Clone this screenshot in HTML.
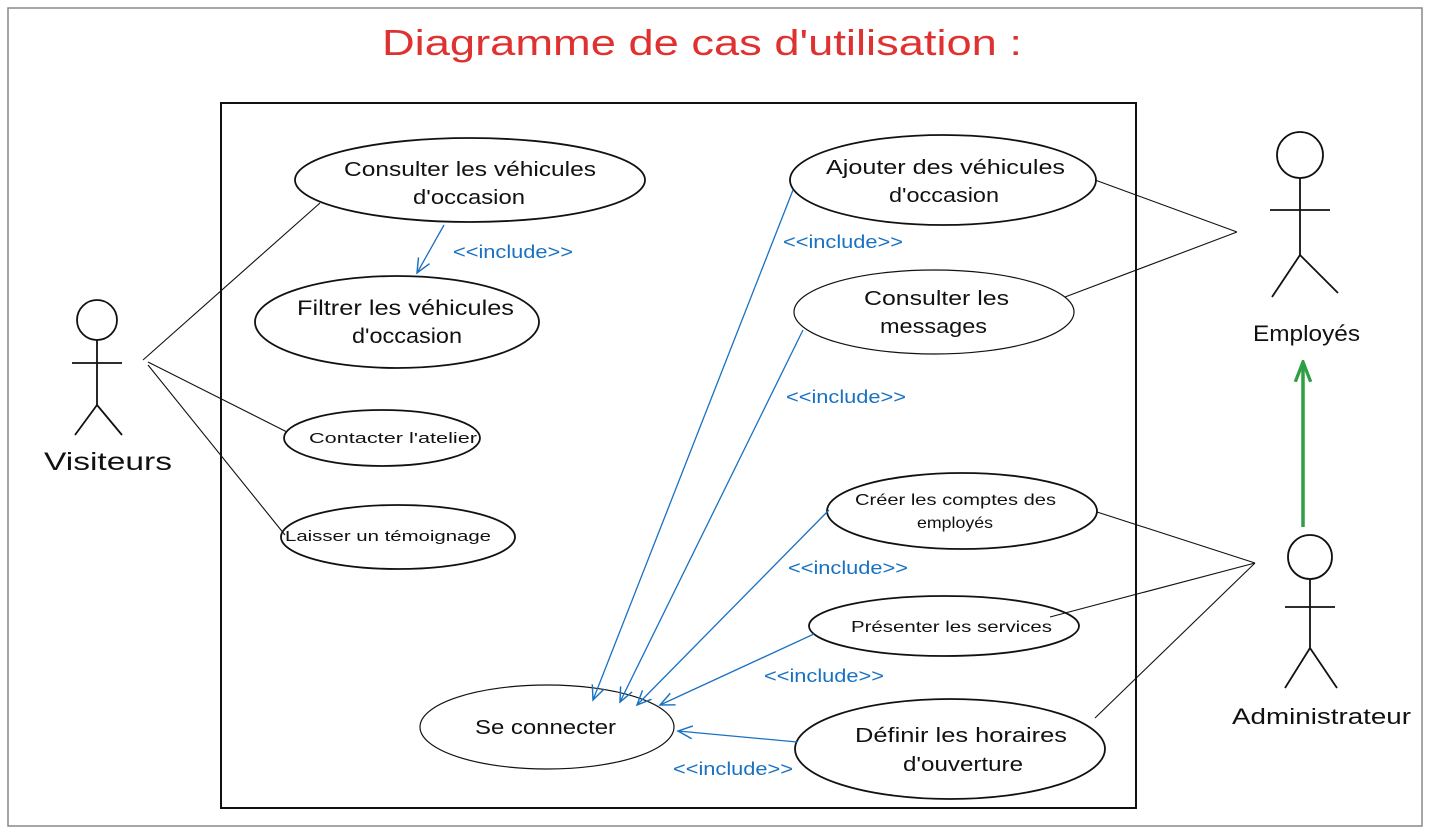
<!DOCTYPE html>
<html><head><meta charset="utf-8"><style>
html,body{margin:0;padding:0;background:#fff;}
svg{display:block;font-family:"Liberation Sans",sans-serif;}
</style></head><body>
<svg width="1432" height="836" viewBox="0 0 1432 836" xmlns="http://www.w3.org/2000/svg">
<defs>
<marker id="ab" viewBox="0 0 20 20" refX="18" refY="10" markerWidth="16" markerHeight="16" orient="auto" markerUnits="userSpaceOnUse">
<path d="M0,2 L18,10 L0,18" fill="none" stroke="#1971c2" stroke-width="1.8"/></marker>
<marker id="ag" viewBox="0 0 20 20" refX="18" refY="10" markerWidth="22" markerHeight="22" orient="auto" markerUnits="userSpaceOnUse">
<path d="M0,3 L18,10 L0,17" fill="none" stroke="#2f9e44" stroke-width="3"/></marker>
</defs>
<rect x="8" y="8" width="1414" height="818" fill="none" stroke="#888" stroke-width="1.5"/>
<text x="382" y="55" textLength="640" lengthAdjust="spacingAndGlyphs" font-size="36" fill="#e03131">Diagramme de cas d'utilisation :</text>
<rect x="221" y="103" width="915" height="705" fill="none" stroke="#111" stroke-width="2"/>

<g fill="none" stroke="#111" stroke-width="1.8">
<ellipse cx="470" cy="180" rx="175" ry="42"/>
<ellipse cx="397" cy="322" rx="142" ry="46"/>
<ellipse cx="382" cy="438" rx="98" ry="28"/>
<ellipse cx="398" cy="537" rx="117" ry="32"/>
<ellipse cx="943" cy="180" rx="153" ry="45"/>
<ellipse cx="934" cy="312" rx="140" ry="42" stroke-width="1.2"/>
<ellipse cx="962" cy="511" rx="135" ry="38"/>
<ellipse cx="944" cy="626" rx="135" ry="30"/>
<ellipse cx="950" cy="749" rx="155" ry="50"/>
<ellipse cx="547" cy="727" rx="127" ry="42" stroke-width="1.2"/>
</g>
<g fill="#111" lengthAdjust="spacingAndGlyphs">
<text x="344" y="176" font-size="20" textLength="252" lengthAdjust="spacingAndGlyphs">Consulter les véhicules</text>
<text x="413" y="204" font-size="20" textLength="112" lengthAdjust="spacingAndGlyphs">d'occasion</text>
<text x="297" y="315" font-size="21" textLength="217" lengthAdjust="spacingAndGlyphs">Filtrer les véhicules</text>
<text x="352" y="343" font-size="21" textLength="110" lengthAdjust="spacingAndGlyphs">d'occasion</text>
<text x="309" y="443" font-size="15" textLength="168" lengthAdjust="spacingAndGlyphs">Contacter l'atelier</text>
<text x="285" y="541" font-size="15" textLength="206" lengthAdjust="spacingAndGlyphs">Laisser un témoignage</text>
<text x="826" y="174" font-size="20" textLength="239" lengthAdjust="spacingAndGlyphs">Ajouter des véhicules</text>
<text x="889" y="202" font-size="20" textLength="110" lengthAdjust="spacingAndGlyphs">d'occasion</text>
<text x="864" y="305" font-size="20" textLength="145" lengthAdjust="spacingAndGlyphs">Consulter les</text>
<text x="880" y="333" font-size="20" textLength="107" lengthAdjust="spacingAndGlyphs">messages</text>
<text x="855" y="505" font-size="16" textLength="201" lengthAdjust="spacingAndGlyphs">Créer les comptes des</text>
<text x="917" y="528" font-size="16" textLength="76" lengthAdjust="spacingAndGlyphs">employés</text>
<text x="851" y="632" font-size="16" textLength="201" lengthAdjust="spacingAndGlyphs">Présenter les services</text>
<text x="855" y="742" font-size="20" textLength="212" lengthAdjust="spacingAndGlyphs">Définir les horaires</text>
<text x="903" y="771" font-size="20" textLength="120" lengthAdjust="spacingAndGlyphs">d'ouverture</text>
<text x="475" y="734" font-size="20" textLength="141" lengthAdjust="spacingAndGlyphs">Se connecter</text>
</g>

<g fill="none" stroke="#111" stroke-width="1.8">
<circle cx="97" cy="320" r="20"/>
<line x1="97" y1="340" x2="97" y2="405"/><line x1="72" y1="363" x2="122" y2="363"/>
<line x1="97" y1="405" x2="75" y2="435"/><line x1="97" y1="405" x2="122" y2="435"/>
<circle cx="1300" cy="155" r="23"/>
<line x1="1300" y1="178" x2="1300" y2="255"/><line x1="1270" y1="210" x2="1330" y2="210"/>
<line x1="1300" y1="255" x2="1272" y2="297"/><line x1="1300" y1="255" x2="1338" y2="293"/>
<circle cx="1310" cy="557" r="22"/>
<line x1="1310" y1="579" x2="1310" y2="648"/><line x1="1285" y1="607" x2="1335" y2="607"/>
<line x1="1310" y1="648" x2="1285" y2="688"/><line x1="1310" y1="648" x2="1337" y2="688"/>
</g>
<g fill="#111">
<text x="44" y="470" font-size="25" textLength="128" lengthAdjust="spacingAndGlyphs">Visiteurs</text>
<text x="1253" y="341" font-size="22" textLength="107" lengthAdjust="spacingAndGlyphs">Employés</text>
<text x="1232" y="724" font-size="22" textLength="179" lengthAdjust="spacingAndGlyphs">Administrateur</text>
</g>
<line x1="1303" y1="527" x2="1303" y2="362" stroke="#2f9e44" stroke-width="3.5" marker-end="url(#ag)"/>

<g stroke="#111" stroke-width="1.1">
<line x1="143" y1="360" x2="320" y2="203"/>
<line x1="148" y1="362" x2="287" y2="432"/>
<line x1="148" y1="365" x2="285" y2="535"/>
<line x1="1237" y1="232" x2="1095" y2="180"/>
<line x1="1237" y1="232" x2="1065" y2="297"/>
<line x1="1255" y1="563" x2="1097" y2="512"/>
<line x1="1255" y1="563" x2="1050" y2="617"/>
<line x1="1255" y1="563" x2="1095" y2="718"/>
</g>

<g stroke="#1971c2" stroke-width="1.3" fill="none">
<line x1="444" y1="225" x2="417" y2="273" marker-end="url(#ab)"/>
<line x1="793" y1="190" x2="593" y2="700" marker-end="url(#ab)"/>
<line x1="803" y1="330" x2="620" y2="702" marker-end="url(#ab)"/>
<line x1="829" y1="510" x2="637" y2="705" marker-end="url(#ab)"/>
<line x1="814" y1="634" x2="660" y2="705" marker-end="url(#ab)"/>
<line x1="797" y1="742" x2="678" y2="731" marker-end="url(#ab)"/>
</g>
<g fill="#1971c2" font-size="18">
<text x="453" y="258" textLength="120" lengthAdjust="spacingAndGlyphs">&lt;&lt;include&gt;&gt;</text>
<text x="783" y="248" textLength="120" lengthAdjust="spacingAndGlyphs">&lt;&lt;include&gt;&gt;</text>
<text x="786" y="403" textLength="120" lengthAdjust="spacingAndGlyphs">&lt;&lt;include&gt;&gt;</text>
<text x="788" y="574" textLength="120" lengthAdjust="spacingAndGlyphs">&lt;&lt;include&gt;&gt;</text>
<text x="764" y="682" textLength="120" lengthAdjust="spacingAndGlyphs">&lt;&lt;include&gt;&gt;</text>
<text x="673" y="775" textLength="120" lengthAdjust="spacingAndGlyphs">&lt;&lt;include&gt;&gt;</text>
</g>
</svg>
</body></html>
